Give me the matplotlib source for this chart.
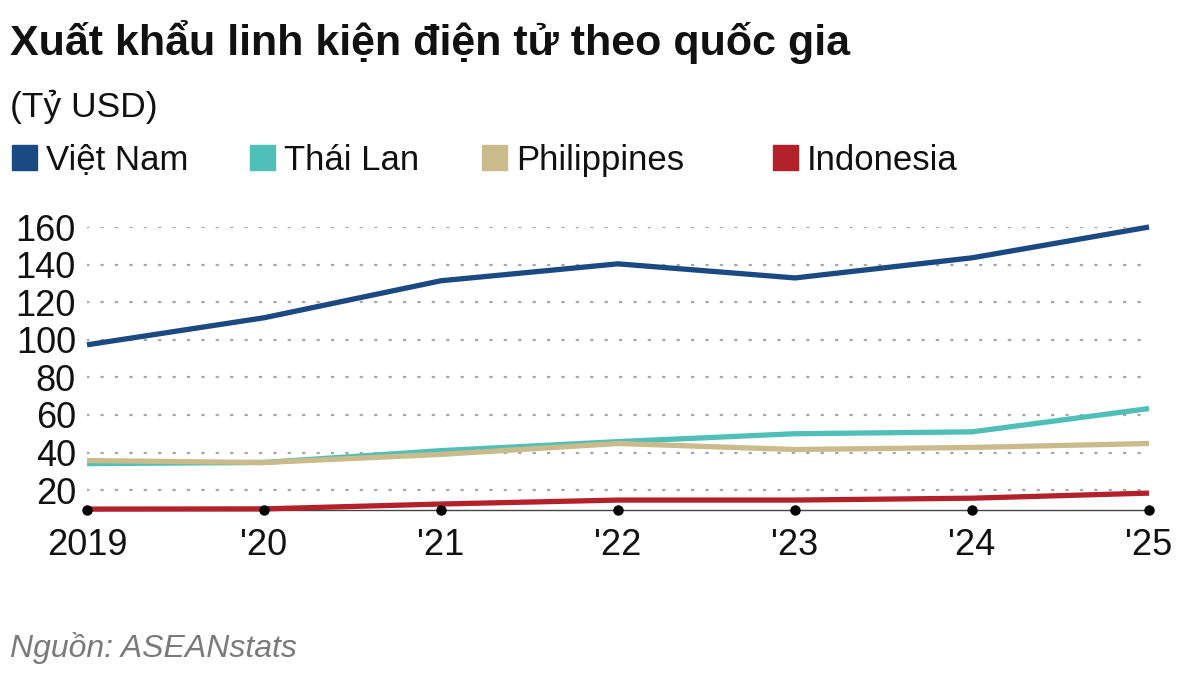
import matplotlib.pyplot as plt
from matplotlib.patches import Rectangle

years = [2019, 2020, 2021, 2022, 2023, 2024, 2025]
year_labels = ["2019", "'20", "'21", "'22", "'23", "'24", "'25"]
countries = ["Việt Nam", "Thái Lan", "Philippines", "Indonesia"]
vietnam = [97.3, 111.7, 131.4, 140.4, 132.9, 143.6, 160.0]
thailand = [34.1, 34.7, 41.0, 45.8, 50.0, 51.0, 63.4]
philippines = [35.7, 34.7, 39.0, 44.8, 41.6, 42.7, 44.8]
indonesia = [9.9, 10.0, 12.6, 14.7, 14.7, 15.7, 18.4]
colors = ["#1b4a82", "#4fbfb7", "#c9bb8b", "#b3222b"]
y_ticks = [20, 40, 60, 80, 100, 120, 140, 160]

plt.rcParams['font.family'] = ['Liberation Sans', 'DejaVu Sans']

fig = plt.figure(figsize=(12, 6.75), dpi=100)
fig.patch.set_facecolor('white')
ax = fig.add_axes([0.0725, 0.2444, 0.885, 0.4193])

# dotted gridlines
for t in y_ticks:
    ax.axhline(t, color='#a8a8a8', lw=1.7, ls=(0, (0.6, 5.5)), zorder=1,
               dash_capstyle='round')

series = [vietnam, thailand, philippines, indonesia]
for vals, c in zip(series, colors):
    ax.plot(years, vals, color=c, lw=3.8, solid_capstyle='butt',
            solid_joinstyle='round', clip_on=False, zorder=3)

ymin = 9.4
ax.set_ylim(ymin, 160)
ax.set_xlim(2019, 2025)

# baseline with dots
ax.axhline(ymin, color='#444444', lw=1.0, zorder=2, clip_on=False)
ax.plot(years, [ymin] * len(years), 'o', color='black', ms=6.5,
        clip_on=False, zorder=4)

ax.set_yticks(y_ticks)
ax.set_yticklabels([str(t) for t in y_ticks])
ax.set_xticks(years)
ax.set_xticklabels(year_labels)
ax.tick_params(axis='y', length=0, pad=8, labelsize=26, labelcolor='#111111')
ax.tick_params(axis='x', length=0, pad=13, labelsize=26, labelcolor='#111111')
for s in ax.spines.values():
    s.set_visible(False)

# title block
fig.text(0.008, 0.918, "Xuất khẩu linh kiện điện tử theo quốc gia",
         fontsize=31, fontweight='bold', va='baseline', color='#111111')
fig.text(0.008, 0.827, "(Tỷ USD)", fontsize=25.5, va='baseline', color='#111111')

# legend
sq_x = [12, 250, 482, 773]
for name, c, x in zip(countries, colors, sq_x):
    fig.patches.append(Rectangle((x / 1200, 1 - 170 / 675), 25 / 1200, 25 / 675,
                                 transform=fig.transFigure, color=c))
    fig.text((x + 34) / 1200, 1 - 170 / 675, name, fontsize=25,
             va='baseline', color='#111111')

fig.text(0.008, 0.027, "Nguồn: ASEANstats", fontsize=23, style='italic',
         color='#7a7a7a', va='baseline')

fig.savefig("out.png", dpi=100)
